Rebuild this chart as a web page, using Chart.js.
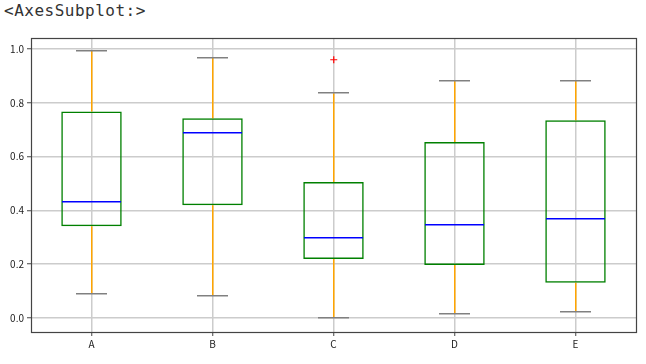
<!DOCTYPE html>
<html>
<head>
<meta charset="utf-8">
<script src="https://cdn.jsdelivr.net/npm/chart.js@4"></script>
<style>
  html, body { margin: 0; padding: 0; background: #fff; }
  #wrap { position: relative; width: 646px; height: 364px; }
  #title { position: absolute; left: 4px; top: 1px; font-family: "DejaVu Sans Mono", monospace; font-size: 16px; letter-spacing: 0.5px; color: #333; }
  canvas { position: absolute; left: 0; top: 0; }
</style>
</head>
<body>
<div id="wrap">
  <div id="title">&lt;AxesSubplot:&gt;</div>
  <canvas id="chart" width="646" height="364"></canvas>
</div>
<script>
const categories = ["A", "B", "C", "D", "E"];
const q1 = [0.341, 0.419, 0.219, 0.197, 0.131];
const median = [0.432, 0.687, 0.300, 0.348, 0.369];
const q3 = [0.768, 0.743, 0.506, 0.654, 0.735];
const whiskerLow = [0.092, 0.083, 0.000, 0.015, 0.023];
const whiskerHigh = [0.993, 0.969, 0.836, 0.881, 0.881];
const outliers = [[], [], [0.959], [], []];
const yTicks = [0.0, 0.2, 0.4, 0.6, 0.8, 1.0];

const font = { family: "'Noto Sans CJK SC', 'DejaVu Sans', sans-serif", size: 10 };
const LW = 1.5;

// put a 1.5px line so that it sits like the grid lines (full pixel + half)
const align = p => Math.round(p - 0.75) + 0.75;

// whiskers, caps, medians, fliers drawn from the scales
const boxExtras = {
  id: "boxExtras",
  afterDatasetsDraw(chart) {
    const { ctx, scales: { x, y } } = chart;
    const step = x.getPixelForValue(1) - x.getPixelForValue(0);
    ctx.save();
    ctx.lineWidth = LW;
    categories.forEach((c, i) => {
      const px = x.getPixelForValue(i);
      const ax = align(px);
      // whiskers
      ctx.strokeStyle = "#ffa500";
      ctx.beginPath();
      ctx.moveTo(ax, y.getPixelForValue(q3[i]));
      ctx.lineTo(ax, y.getPixelForValue(whiskerHigh[i]));
      ctx.moveTo(ax, y.getPixelForValue(q1[i]));
      ctx.lineTo(ax, y.getPixelForValue(whiskerLow[i]));
      ctx.stroke();
      // caps
      ctx.strokeStyle = "#808080";
      [whiskerLow[i], whiskerHigh[i]].forEach(v => {
        const py = align(y.getPixelForValue(v));
        ctx.beginPath();
        ctx.moveTo(Math.round(px - step * 0.125), py);
        ctx.lineTo(Math.round(px + step * 0.125), py);
        ctx.stroke();
      });
      // median
      ctx.strokeStyle = "#0000ff";
      const my = align(y.getPixelForValue(median[i]));
      ctx.beginPath();
      ctx.moveTo(px - step * 0.25 + 0.75, my);
      ctx.lineTo(px + step * 0.25 - 0.75, my);
      ctx.stroke();
      // fliers
      ctx.strokeStyle = "#ff0000";
      ctx.lineWidth = 1.2;
      outliers[i].forEach(v => {
        const oy = align(y.getPixelForValue(v));
        ctx.beginPath();
        ctx.moveTo(ax - 3.5, oy); ctx.lineTo(ax + 3.5, oy);
        ctx.moveTo(ax, oy - 3.5); ctx.lineTo(ax, oy + 3.5);
        ctx.stroke();
      });
      ctx.lineWidth = LW;
    });
    // frame
    const a = chart.chartArea;
    ctx.lineWidth = 1.2;
    ctx.strokeStyle = "#444";
    ctx.strokeRect(Math.round(a.left) + 0.5, Math.round(a.top) + 0.5, Math.round(a.right - a.left), Math.round(a.bottom - a.top));
    ctx.restore();
  }
};

new Chart(document.getElementById("chart"), {
  type: "bar",
  data: {
    labels: categories,
    datasets: [{
      data: categories.map((c, i) => [q1[i], q3[i]]),
      backgroundColor: "rgba(0,0,0,0)",
      borderColor: "#008000",
      borderWidth: LW,
      borderSkipped: false,
      barPercentage: 0.5,
      categoryPercentage: 1.0,
    }]
  },
  options: {
    responsive: false,
    animation: false,
    layout: { padding: { top: 38, right: 10, bottom: 0, left: 0 } },
    plugins: { legend: { display: false }, tooltip: { enabled: false } },
    scales: {
      x: {
        offset: true,
        grid: { offset: false, color: "#cccccc", lineWidth: LW, tickLength: 4, tickColor: "#444", tickWidth: 1 },
        border: { display: false },
        ticks: { color: "#222", font, padding: 2, maxRotation: 0 },
        afterFit(s) { s.height = 32; },
      },
      y: {
        min: -0.052,
        max: 1.041,
        grid: { color: "#cccccc", lineWidth: LW, tickLength: 4, tickColor: "#444", tickWidth: 1 },
        border: { display: false },
        ticks: { color: "#222", font, padding: 3, callback: v => v.toFixed(1) },
        afterBuildTicks(s) { s.ticks = yTicks.map(v => ({ value: v })); },
        afterFit(s) { s.width = 31; },
      }
    }
  },
  plugins: [boxExtras]
});
</script>
</body>
</html>
